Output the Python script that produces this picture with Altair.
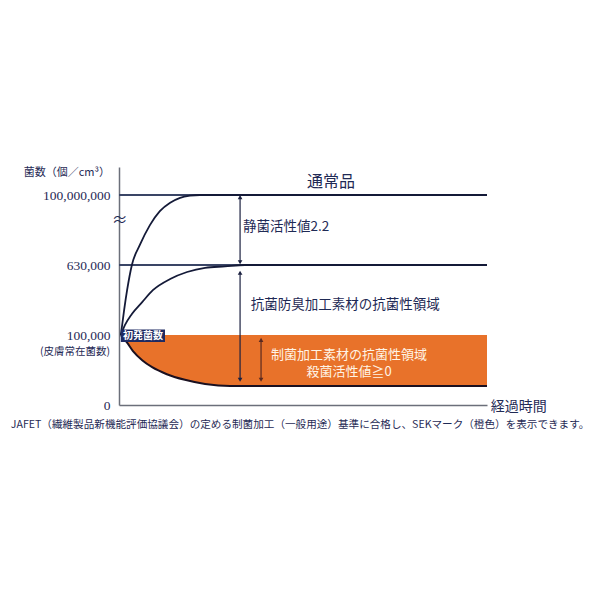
import altair as alt
import pandas as pd

# ---- data (x = elapsed time in arbitrary units, y = level on broken scale) ----
# y levels: 0 -> 0, 1 -> 100,000, 2 -> 630,000, 3 -> 100,000,000
y_tick_values = [0, 1, 2, 3]
y_tick_labels = ["0", "100,000", "630,000", "100,000,000"]

# 通常品 (normal product) growth curve
normal_t = [0.05, 0.14, 0.22, 0.35, 0.57, 0.84, 1.11, 1.39, 1.66, 1.93, 2.2, 10.0]
normal_y = [1.0, 1.36, 1.64, 2.0, 2.29, 2.57, 2.77, 2.89, 2.96, 2.99, 3.0, 3.0]

# 抗菌防臭加工素材 curve
odor_t = [0.05, 0.16, 0.35, 0.63, 0.92, 1.39, 1.85, 2.34, 2.88, 3.42, 10.0]
odor_y = [1.0, 1.14, 1.3, 1.47, 1.64, 1.8, 1.9, 1.96, 1.98, 2.0, 2.0]

# 制菌加工素材 curve (decay)
sek_t = [0.05, 0.22, 0.38, 0.63, 0.9, 1.3, 1.79, 2.34, 3.02, 10.0]
sek_y = [1.0, 0.89, 0.77, 0.64, 0.54, 0.44, 0.36, 0.30, 0.27, 0.27]

# reference horizontal lines
ref_levels = [3, 2]

# arrows (x position, top level, bottom level)
arrow_x = [3.29, 3.29, 3.86]
arrow_top = [2.97, 1.89, 0.93]
arrow_bottom = [2.04, 0.36, 0.36]
arrow_color = ["#1b2140", "#1b2140", "#5a2a20"]

# annotation labels
label_text = ["通常品", "静菌活性値2.2", "抗菌防臭加工素材の抗菌性領域"]
label_x = [5.76, 3.37, 3.58]
label_y = [3.19, 2.54, 1.43]
label_align = ["center", "left", "left"]

orange_text = ["制菌加工素材の抗菌性領域", "殺菌活性値≧0"]
orange_x = [6.25, 6.25]
orange_y = [0.72, 0.47]

navy = "#1f2a55"
orange = "#e8722a"
axis_gray = "#6b6f7a"

xs = alt.Scale(domain=[0, 10], nice=False, zero=False)
ys = alt.Scale(domain=[0, 3.4], nice=False, zero=False)

curves = pd.concat([
    pd.DataFrame({"t": normal_t, "y": normal_y, "s": "normal"}),
    pd.DataFrame({"t": odor_t, "y": odor_y, "s": "odor"}),
])
sek = pd.DataFrame({"t": sek_t, "y": sek_y, "top": [1] * len(sek_t)})

label_expr = " : ".join(
    [f"datum.value=={v} ? '{l}'" for v, l in zip(y_tick_values[1:], y_tick_labels[1:])]
) + f" : '{y_tick_labels[0]}'"

base_axes = alt.Chart(pd.DataFrame({"t": [0], "y": [0]})).mark_point(opacity=0).encode(
    x=alt.X("t:Q", scale=xs, axis=alt.Axis(title=None, labels=False, ticks=False, grid=False,
                                           domainColor=axis_gray, domainWidth=1.5)),
    y=alt.Y("y:Q", scale=ys, axis=alt.Axis(title=None, values=y_tick_values, ticks=False, grid=False,
                                           domainColor=axis_gray, domainWidth=1.5,
                                           labelExpr=label_expr,
                                           labelFont="Liberation Serif", labelFontSize=13.5,
                                           labelColor=navy, labelPadding=9)),
)

area = alt.Chart(sek).mark_area(color=orange, interpolate="monotone").encode(
    x=alt.X("t:Q", scale=xs), y=alt.Y("y:Q", scale=ys), y2="top:Q"
)
sek_line = alt.Chart(sek).mark_line(color="#1a1020", strokeWidth=2, interpolate="monotone").encode(
    x=alt.X("t:Q", scale=xs), y=alt.Y("y:Q", scale=ys)
)

refs = alt.Chart(pd.DataFrame({"y": ref_levels})).mark_rule(color="#3a4566", strokeWidth=2).encode(
    y=alt.Y("y:Q", scale=ys), x=alt.value(0), x2=alt.value(368)
)

curve_lines = alt.Chart(curves).mark_line(color="#141a38", strokeWidth=1.8, interpolate="monotone").encode(
    x=alt.X("t:Q", scale=xs), y=alt.Y("y:Q", scale=ys), detail="s:N"
)

arrows = pd.DataFrame({"x": arrow_x, "top": arrow_top, "bottom": arrow_bottom, "c": arrow_color})
arrow_rules = alt.Chart(arrows).mark_rule(strokeWidth=1.2).encode(
    x=alt.X("x:Q", scale=xs), y=alt.Y("top:Q", scale=ys), y2="bottom:Q",
    color=alt.Color("c:N", scale=None)
)
arrow_up = alt.Chart(arrows).mark_point(shape="triangle-up", filled=True, size=22, opacity=1).encode(
    x=alt.X("x:Q", scale=xs), y=alt.Y("top:Q", scale=ys), color=alt.Color("c:N", scale=None)
)
arrow_down = alt.Chart(arrows).mark_point(shape="triangle-down", filled=True, size=22, opacity=1).encode(
    x=alt.X("x:Q", scale=xs), y=alt.Y("bottom:Q", scale=ys), color=alt.Color("c:N", scale=None)
)

labels = pd.DataFrame({"text": label_text, "x": label_x, "y": label_y, "align": label_align})
label_center = alt.Chart(labels[labels["align"] == "center"]).mark_text(
    font="Noto Sans CJK JP", color=navy, align="center", baseline="middle", fontSize=16
).encode(x=alt.X("x:Q", scale=xs), y=alt.Y("y:Q", scale=ys), text="text:N")
label_left = alt.Chart(labels[labels["align"] == "left"]).mark_text(
    font="Noto Sans CJK JP", color=navy, align="left", baseline="middle", fontSize=13.5
).encode(x=alt.X("x:Q", scale=xs), y=alt.Y("y:Q", scale=ys), text="text:N")

orange_labels = alt.Chart(pd.DataFrame({"text": orange_text, "x": orange_x, "y": orange_y})).mark_text(
    font="Noto Sans CJK JP", color="#fff4e6", align="center", baseline="middle", fontSize=13
).encode(x=alt.X("x:Q", scale=xs), y=alt.Y("y:Q", scale=ys), text="text:N")

# 初発菌数 badge
badge_df = pd.DataFrame({"x": [0.05], "x2": [1.25], "y": [0.9], "y2": [1.08], "tx": [0.65], "ty": [0.99], "text": ["初発菌数"]})
badge = alt.Chart(badge_df).mark_rect(color="#1e2a62").encode(
    x=alt.X("x:Q", scale=xs), x2="x2:Q", y=alt.Y("y:Q", scale=ys), y2="y2:Q"
)
badge_text = alt.Chart(badge_df).mark_text(
    font="Noto Sans CJK JP", color="white", fontWeight="bold", fontSize=10, align="center", baseline="middle"
).encode(x=alt.X("tx:Q", scale=xs), y=alt.Y("ty:Q", scale=ys), text="text:N")

# outside annotations (axis titles, notes)
side_text = ["(皮膚常在菌数)", "菌数（個／cm³）", "経過時間", "≈"]
side_x = [0, 0, 10.1, 0.02]
side_y = [0.76, 3.31, -0.03, 2.64]
side_size = [10.5, 11, 14, 16]
side_align = ["right", "right", "left", "center"]
side_dx = [-9, -9, 0, 0]
side_df = pd.DataFrame({"text": side_text, "x": side_x, "y": side_y})
side_layers = []
for i in range(len(side_df)):
    row = side_df.iloc[[i]]
    side_layers.append(
        alt.Chart(row).mark_text(
            font="Noto Sans CJK JP", color=navy, align=side_align[i], baseline="middle",
            fontSize=side_size[i], dx=side_dx[i]
        ).encode(x=alt.X("x:Q", scale=xs), y=alt.Y("y:Q", scale=ys), text="text:N")
    )

footnote = ["JAFET（繊維製品新機能評価協議会）の定める制菌加工（一般用途）基準に合格し、SEKマーク（橙色）を表示できます。"]
foot = alt.Chart(pd.DataFrame({"text": footnote, "x": [4.92], "y": [-0.29]})).mark_text(
    font="Noto Sans CJK JP", color=navy, align="center", baseline="middle", fontSize=10.6
).encode(x=alt.X("x:Q", scale=xs), y=alt.Y("y:Q", scale=ys), text="text:N")

chart = alt.layer(
    base_axes, area, refs, sek_line, curve_lines, arrow_rules, arrow_up, arrow_down,
    label_center, label_left, orange_labels, badge, badge_text, *side_layers, foot
).properties(
    width=368, height=238,
    autosize=alt.AutoSizeParams(type="none"),
    padding={"left": 111, "top": 159, "right": 105, "bottom": 150},
    background="white",
).configure_view(stroke=None)

chart.save("out.html", embed_options={"renderer": "svg", "actions": False})
